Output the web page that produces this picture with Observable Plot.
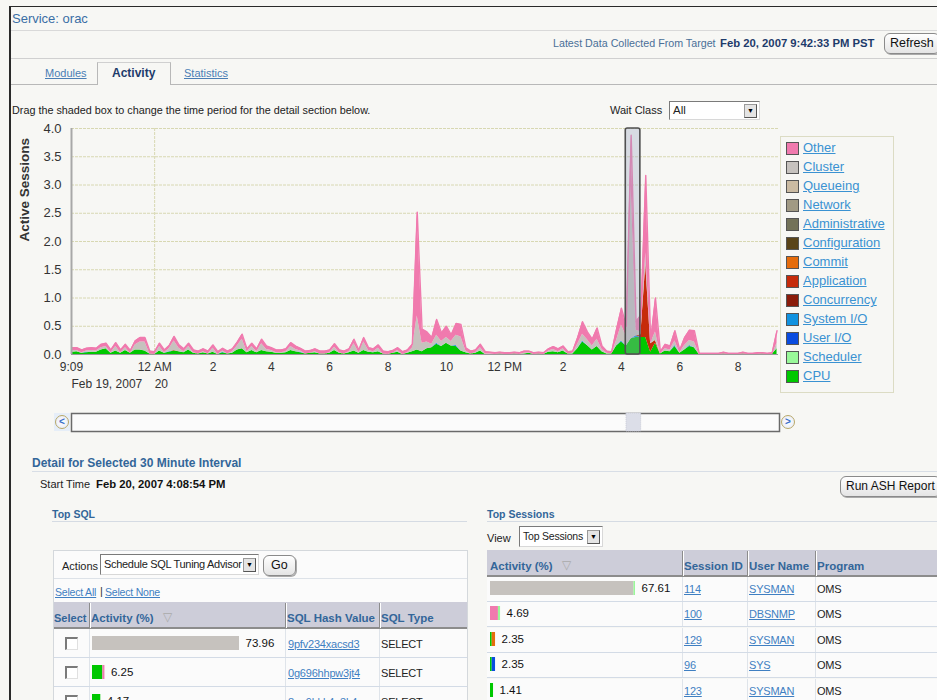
<!DOCTYPE html>
<html>
<head>
<meta charset="utf-8">
<script src="https://cdn.jsdelivr.net/npm/d3@7"></script>
<script src="https://cdn.jsdelivr.net/npm/@observablehq/plot@0.6"></script>
<style>
html,body{margin:0;padding:0;}
body{width:937px;height:700px;overflow:hidden;position:relative;background:#f7f7f4;
  font-family:"Liberation Sans",Arial,sans-serif;font-size:11px;color:#222;}
.a{position:absolute;white-space:nowrap;line-height:14px;}
.link{color:#3f7fc2;text-decoration:underline;}
.hdr{color:#336699;font-weight:bold;}
.ln{position:absolute;height:1px;background:#d5dbe3;}
.btn{position:absolute;border:1px solid #8a8a8a;border-radius:6px;background:linear-gradient(#ffffff,#e4e4e4);
  font-size:12.5px;line-height:18px;padding:0 5px;white-space:nowrap;box-shadow:1px 1px 0 #aaa;color:#111;}
.sel{position:absolute;border:1px solid #7a7a7a;border-right-color:#d8d8d8;border-bottom-color:#d8d8d8;background:#fff;
  line-height:17px;padding-left:3px;white-space:nowrap;box-sizing:border-box;overflow:hidden;}
.dd{position:absolute;right:2px;width:11px;height:12px;border:1px solid #9a9a9a;border-right-color:#555;border-bottom-color:#555;background:#e4e4e4;font-size:7px;line-height:12px;text-align:center;color:#000;letter-spacing:0;}
.cb{position:absolute;width:10px;height:10px;border-top:2px solid #7a7a7a;border-left:2px solid #7a7a7a;border-right:1px solid #e0e0e0;border-bottom:1px solid #e0e0e0;background:#fff;}
.sw{position:absolute;width:11px;height:11px;border:1px solid #555;}
.leg{position:absolute;white-space:nowrap;font-size:13px;line-height:15px;color:#3a92d2;text-decoration:underline;}
.th{position:absolute;background:#cdcdd9;border-bottom:2px solid #8c8c8c;box-sizing:border-box;}
.vs{position:absolute;width:1px;background:#8c8c8c;border-right:1px solid #fff;}
.rb{position:absolute;height:1px;background:#d3dbe6;}
.circ{position:absolute;width:12px;height:12px;border-radius:50%;border:1px solid #b8a868;background:radial-gradient(#ffffff,#e4e8f4);color:#3a6fc8;font:bold 10px/12px "Liberation Sans",Arial,sans-serif;text-align:center;}
.tb{letter-spacing:-0.2px;}
</style>
</head>
<body>
<script>
// ---------------- chart data (Active Sessions by wait class, 10-minute samples) ----------------
const sampleStart = "2007-02-19T21:10:00Z";
const sampleStepMinutes = 10;
const cpu = [
 .04,.05,.02,.03,.04,.04,.08,.10,.02,.06,
 .02,.07,.02,.08,.08,.06,.01,.00,.06,.02,
 .04,.06,.05,.03,.08,.02,.01,.03,.01,.04,
 .00,.03,.01,.02,.08,.10,.03,.07,.03,.07,
 .05,.04,.02,.02,.03,.07,.05,.03,.01,.02,
 .03,.01,.01,.02,.07,.02,.01,.03,.06,.02,
 .07,.04,.03,.05,.01,.00,.02,.04,.00,.02,
 .05,.08,.05,.10,.12,.18,.14,.20,.15,.14,
 .06,.03,.01,.02,.06,.00,.00,.00,.01,.00,
 .00,.01,.00,.01,.02,.00,.01,.00,.04,.05,
 .03,.06,.01,.01,.10,.22,.16,.08,.14,.05,
 .01,.01,.15,.22,.15,.28,.30,.30,.30,.04,
 .20,.01,.06,.05,.14,.02,.08,.14,.12,.00,
 .00,.00,.00,.00,.01,.00,.00,.00,.01,.00,
 .00,.00,.01,.00,.00,.10];
const systemIO = [
 .00,.00,.00,.01,.00,.00,.00,.00,.00,.00,
 .00,.00,.00,.00,.00,.00,.00,.00,.00,.00,
 .01,.00,.00,.00,.00,.00,.00,.00,.00,.00,
 .00,.01,.00,.00,.00,.00,.00,.00,.00,.00,
 .00,.00,.00,.00,.00,.00,.00,.01,.00,.00,
 .00,.00,.00,.00,.00,.00,.00,.00,.00,.00,
 .00,.00,.00,.00,.00,.00,.00,.00,.00,.00,
 .00,.00,.00,.00,.00,.02,.00,.00,.00,.02,
 .00,.00,.00,.00,.00,.00,.00,.00,.00,.00,
 .00,.00,.00,.00,.00,.00,.00,.00,.00,.00,
 .00,.00,.00,.00,.00,.02,.00,.00,.00,.00,
 .00,.00,.00,.02,.00,.00,.03,.00,.00,.00,
 .00,.00,.00,.00,.02,.00,.00,.02,.00,.00,
 .00,.00,.00,.00,.00,.00,.00,.00,.00,.00,
 .00,.00,.00,.00,.00,.00];
const application = [
 .00,.00,.00,.00,.00,.00,.00,.00,.00,.00,
 .00,.00,.00,.00,.00,.00,.00,.00,.00,.00,
 .00,.01,.00,.00,.00,.00,.00,.00,.00,.00,
 .00,.00,.00,.00,.00,.00,.00,.00,.00,.00,
 .00,.00,.00,.00,.00,.00,.00,.00,.00,.00,
 .00,.00,.00,.00,.00,.00,.00,.00,.00,.00,
 .00,.00,.00,.00,.00,.00,.00,.00,.00,.00,
 .00,.00,.00,.00,.00,.00,.00,.00,.00,.00,
 .00,.00,.00,.00,.00,.00,.00,.00,.00,.00,
 .00,.00,.00,.00,.00,.00,.00,.00,.00,.00,
 .00,.00,.00,.00,.00,.00,.00,.00,.00,.00,
 .00,.00,.00,.00,.00,.00,.00,.05,1.30,.15,
 .05,.00,.00,.00,.00,.00,.00,.00,.00,.00,
 .00,.00,.00,.00,.00,.00,.00,.00,.00,.00,
 .00,.00,.00,.00,.00,.00];
const cluster = [
 .03,.02,.01,.02,.03,.02,.04,.04,.01,.08,
 .01,.05,.00,.09,.14,.16,.00,.00,.08,.01,
 .05,.17,.06,.02,.06,.01,.00,.02,.00,.07,
 .00,.02,.00,.03,.07,.17,.02,.07,.02,.12,
 .04,.03,.01,.01,.02,.07,.04,.02,.00,.00,
 .02,.00,.00,.01,.06,.01,.00,.02,.13,.01,
 .15,.03,.02,.06,.00,.00,.00,.03,.00,.01,
 .06,.60,.15,.12,.06,.14,.09,.10,.08,.18,
 .25,.03,.00,.01,.06,.01,.01,.00,.00,.00,
 .00,.00,.00,.01,.01,.00,.00,.00,.02,.04,
 .02,.04,.00,.01,.08,.12,.10,.07,.13,.04,
 .01,.00,.10,.28,.17,2.70,.10,.05,.20,.00,
 .15,.00,.04,.03,.08,.01,.08,.09,.10,.00,
 .00,.00,.00,.00,.00,.00,.00,.00,.00,.00,
 .00,.00,.00,.00,.00,.10];
const other = [
 .05,.05,.05,.05,.05,.05,.06,.06,.05,.07,
 .05,.06,.05,.07,.08,.08,.05,.05,.06,.05,
 .06,.08,.06,.05,.06,.05,.05,.05,.05,.06,
 .05,.05,.05,.05,.07,.09,.05,.06,.05,.08,
 .06,.05,.05,.05,.05,.07,.06,.05,.05,.05,
 .05,.05,.05,.05,.06,.05,.05,.05,.08,.05,
 .08,.05,.05,.06,.05,.05,.05,.05,.05,.05,
 .07,1.84,.25,.18,.12,.28,.15,.20,.12,.21,
 .22,.06,.05,.05,.06,.04,.03,.03,.03,.03,
 .03,.03,.03,.04,.03,.03,.03,.03,.04,.05,
 .05,.05,.04,.04,.12,.22,.14,.12,.20,.06,
 .04,.04,.20,.30,.18,.90,.15,.30,1.37,.06,
 .60,.04,.08,.07,.18,.05,.14,.18,.20,.02,
 .02,.02,.02,.02,.03,.02,.02,.02,.03,.02,
 .02,.03,.02,.02,.03,.22];

const waitClasses = ["Other","Cluster","Queueing","Network","Administrative","Configuration","Commit","Application","Concurrency","System I/O","User I/O","Scheduler","CPU"];
const waitColors  = ["#f07aae","#c6c2be","#cbbba2","#a19a84","#737258","#5a4419","#e56c0c","#c62b0a","#8a1c0a","#1192e0","#0a4ce0","#99f899","#00c800"];

const domainStart = "2007-02-19T21:09:00Z";
const domainEnd   = "2007-02-20T21:23:00Z";
const dayBreak    = "2007-02-20T00:00:00Z";
const yTicks = [0, 0.5, 1, 1.5, 2, 2.5, 3, 3.5, 4];
const xTickTimes  = ["2007-02-19T21:09:00Z","2007-02-20T00:00:00Z","2007-02-20T02:00:00Z","2007-02-20T04:00:00Z","2007-02-20T06:00:00Z","2007-02-20T08:00:00Z","2007-02-20T10:00:00Z","2007-02-20T12:00:00Z","2007-02-20T14:00:00Z","2007-02-20T16:00:00Z","2007-02-20T18:00:00Z","2007-02-20T20:00:00Z"];
const xTickLabels = ["9:09","12 AM","2","4","6","8","10","12 PM","2","4","6","8"];
const dateLabelTimes = ["2007-02-19T21:09:00Z","2007-02-20T00:00:00Z"];
const dateLabels     = ["Feb 19, 2007","20"];
const selectionStart = "2007-02-20T16:08:54Z";
const selectionEnd   = "2007-02-20T16:38:54Z";

// ---------------- detail tables ----------------
const sqlActivity = [73.96, 6.25, 4.17];
const sqlParts = [[["Cluster",73.96]], [["CPU",5.2],["Other",1.05]], [["CPU",4.17]]];
const sqlHash = ["9pfv234xacsd3","0g696hhpw3jt4","8nq9bkk4g3k4"];
const sqlType = ["SELECT","SELECT","SELECT"];
const sessActivity = [67.61, 4.69, 2.35, 2.35, 1.41];
const sessParts = [[["Cluster",66.9],["Scheduler",0.71]], [["Other",3.7],["Scheduler",0.99]], [["CPU",0.8],["Commit",1.55]], [["CPU",0.8],["User I/O",1.55]], [["CPU",1.41]]];
const sessId = ["114","100","129","96","123"];
const sessUser = ["SYSMAN","DBSNMP","SYSMAN","SYS","SYSMAN"];
const sessProgram = ["OMS","OMS","OMS","OMS","OMS"];

// ---------------- helpers ----------------
const body = document.body;
function el(cls, x, y, text, style) {
  const d = document.createElement("div");
  d.className = cls;
  d.style.left = x + "px"; d.style.top = y + "px";
  if (text != null) d.textContent = text;
  if (style) Object.assign(d.style, style);
  body.appendChild(d);
  return d;
}
function place(node, x, y) {
  node.style.position = "absolute"; node.style.left = x + "px"; node.style.top = y + "px";
  body.appendChild(node);
  return node;
}
function dropdown(parent, top) {
  const d = document.createElement("div"); d.className = "dd"; d.textContent = "\u25BC"; d.style.top = top + "px"; parent.appendChild(d);
}
const color = {domain: waitClasses, range: waitColors};
const stackOrder = waitClasses.slice().reverse();
const T = s => new Date(s);

// ---------------- page chrome ----------------
el("", 9, 6, null, {position:"absolute", width:"940px", height:"700px", borderLeft:"2px solid #2a2a2a", borderTop:"1px solid #2a2a2a"});
el("a", 12, 12, "Service: orac", {fontSize:"13px", color:"#3a6ea5"});
el("ln", 11, 30, null, {width:"926px", background:"#d9d9d9"});
el("a", 553, 36, "Latest Data Collected From Target", {fontSize:"10.7px", color:"#4a6f98"});
el("a", 720, 36, "Feb 20, 2007 9:42:33 PM PST", {fontSize:"11.3px", fontWeight:"bold", color:"#1e3b6b"});
el("btn", 884, 33, "Refresh", {height:"19px"});
el("ln", 11, 58, null, {width:"926px", background:"#d0d0d0"});
// tabs
el("ln", 11, 84, null, {width:"86px", background:"#b8b8b8"});
el("ln", 170, 84, null, {width:"767px", background:"#b8b8b8"});
el("", 97, 62, null, {position:"absolute", width:"72px", height:"22px", borderLeft:"1px solid #b8b8b8", borderRight:"1px solid #b8b8b8", borderTop:"1px solid #d0d0d0"});
el("a link", 45, 66, "Modules", {color:"#4a7eb5"});
el("a", 112, 66, "Activity", {fontSize:"12px", fontWeight:"bold", color:"#1e3b6b"});
el("a link", 184, 66, "Statistics", {color:"#4a7eb5"});
el("a", 12, 103, "Drag the shaded box to change the time period for the detail section below.", {fontSize:"10.8px"});
el("a", 610, 103, "Wait Class", {fontSize:"11px"});
const ws = el("sel", 669, 101, "All", {width:"91px", height:"19px", fontSize:"11.5px"});
dropdown(ws, 2);

// ---------------- main chart ----------------
const times = cpu.map((_, i) => new Date(Date.parse(sampleStart) + i * sampleStepMinutes * 60000));
const series = [["CPU", cpu], ["System I/O", systemIO], ["Application", application], ["Cluster", cluster], ["Other", other]];
const rows = [];
for (const [name, vals] of series) vals.forEach((v, i) => rows.push({time: times[i], cls: name, value: v}));
const totals = times.map((t, i) => ({time: t, value: series.reduce((a, [, vals]) => a + vals[i], 0)}));
const tickMap = new Map(xTickTimes.map((s, i) => [+T(s), xTickLabels[i]]));
const dateRows = dateLabelTimes.map((s, i) => ({time: T(s), label: dateLabels[i]}));
const selection = [{start: T(selectionStart), end: T(selectionEnd)}];
const gridStyle = {stroke: "#d8d8b2", strokeOpacity: 1, strokeDasharray: "3,1"};

const chart = Plot.plot({
  width: 790, height: 281,
  marginLeft: 71, marginRight: 12, marginTop: 10, marginBottom: 45,
  style: {background: "transparent", fontFamily: "Liberation Sans, Arial, sans-serif", color: "#333", overflow: "visible"},
  x: {type: "utc", domain: [T(domainStart), T(domainEnd)]},
  y: {domain: [0, 4]},
  color,
  marks: [
    Plot.gridY(yTicks, gridStyle),
    Plot.ruleX([T(dayBreak)], gridStyle),
    Plot.areaY(rows, {x: "time", y: "value", z: "cls", fill: "cls", order: stackOrder, curve: "linear"}),
    Plot.lineY(totals, {x: "time", y: "value", stroke: waitColors[0], strokeWidth: 1.4}),
    Plot.ruleY([0], {stroke: "#9a9a9a"}),
    Plot.ruleX([T(domainStart)], {stroke: "#a8a8a8", strokeWidth: 2}),
    Plot.rect(selection, {x1: "start", x2: "end", y1: 0, y2: 4, fill: "#9aa6c0", fillOpacity: 0.35, stroke: "#505050", strokeWidth: 1.6, rx: 2}),
    Plot.axisY(yTicks, {tickSize: 0, tickPadding: 10, tickFormat: d3.format(".1f"), fontSize: 13, label: null}),
    Plot.axisX(xTickTimes.map(T), {tickSize: 0, tickPadding: 8, tickFormat: d => tickMap.get(+d), fontSize: 12, label: null}),
    Plot.text(dateRows, {x: "time", text: "label", frameAnchor: "bottom", lineAnchor: "top", textAnchor: "start", dy: 25, fontSize: 12}),
    Plot.text(["Active Sessions"], {frameAnchor: "left", dx: -47, rotate: -90, fontWeight: "bold", fontSize: 13.5})
  ]
});
place(chart, 0, 118);

// legend
el("", 780, 136, null, {position:"absolute", width:"112px", height:"255px", border:"1px solid #dcdcc4"});
waitClasses.forEach((c, k) => {
  el("sw", 786, 142 + k * 19.03, null, {background: waitColors[k]});
  el("leg", 803, 140 + k * 19.03, c);
});

// scroll bar (same time scale as the chart)
const scroll = Plot.plot({
  width: 790, height: 22, marginLeft: 71, marginRight: 11, marginTop: 2, marginBottom: 2,
  style: {background: "transparent", overflow: "visible"},
  x: {type: "utc", domain: [T(domainStart), T(domainEnd)], axis: null},
  marks: [
    Plot.frame({fill: "#fbfbfb", stroke: "#6a6a6a", strokeWidth: 1.5}),
    Plot.rect(selection, {x1: "start", x2: "end", fill: "#dcdee8", stroke: "#c8cad6", strokeDasharray: "1,1"})
  ]
});
place(scroll, 0, 411);
el("", 54, 413, null, {position:"absolute", width:"16px", height:"18px", background:"#e6eef8"});
el("circ", 55, 415, "<");
el("circ", 781, 415, ">");

// ---------------- detail section ----------------
el("a", 32, 456, "Detail for Selected 30 Minute Interval", {fontSize:"12px", fontWeight:"bold", color:"#336699"});
el("ln", 32, 471, null, {width:"905px", background:"#d8dee6"});
el("a", 40, 477, "Start Time", {fontSize:"11px"});
el("a", 96, 477, "Feb 20, 2007 4:08:54 PM", {fontSize:"11.3px", fontWeight:"bold", color:"#111"});
el("btn", 840, 476, "Run ASH Report", {height:"19px", fontSize:"12px"});

// Top SQL
el("a hdr", 52, 507, "Top SQL", {fontSize:"10.5px"});
el("ln", 52, 521, null, {width:"415px"});
el("", 53, 550, null, {position:"absolute", width:"413px", height:"160px", border:"1px solid #d4d8dc", background:"#fbfbfb"});
el("ln", 54, 578, null, {width:"413px", background:"#dde2e8"});
el("a", 62, 559, "Actions", {fontSize:"11px"});
const as = el("sel", 100, 554, "Schedule SQL Tuning Advisor", {width:"159px", height:"21px", lineHeight:"19px", fontSize:"11px", letterSpacing:"-0.3px"});
dropdown(as, 3);
el("btn", 263, 555, "Go", {height:"19px", padding:"0 7px"});
el("a link", 55, 585, "Select All", {fontSize:"10.5px", letterSpacing:"-0.2px"});
el("a", 100, 584, "|", {color:"#333"});
el("a link", 105, 585, "Select None", {fontSize:"10.5px", letterSpacing:"-0.2px"});
el("th", 54, 602, null, {width:"413px", height:"27px"});
[89, 285, 379].forEach(x => el("vs", x, 603, null, {height:"25px"}));
el("a hdr", 54, 611, "Select", {fontSize:"11px"});
el("a hdr", 91, 611, "Activity (%)", {fontSize:"11.5px"});
el("a", 163, 610, "\u25BD", {color:"#aaa", fontSize:"12px"});
el("a hdr", 287, 611, "SQL Hash Value", {fontSize:"11.5px"});
el("a hdr", 381, 611, "SQL Type", {fontSize:"11.5px"});

function activityBar(parts, value, maxValue, barWidth, h) {
  return Plot.plot({
    width: barWidth + 45, height: h, margin: 0,
    style: {background: "transparent", overflow: "visible", fontFamily: "Liberation Sans, Arial, sans-serif", color: "#111"},
    x: {domain: [0, maxValue], range: [0, barWidth], axis: null},
    color,
    marks: [
      Plot.barX(parts, {x: d => d[1], fill: d => d[0]}),
      Plot.text([value], {x: d => d, text: d => d.toFixed(2), dx: 6, textAnchor: "start", frameAnchor: "middle", fontSize: 11.5})
    ]
  });
}
const sqlMax = d3.max(sqlActivity);
sqlActivity.forEach((v, k) => {
  const top = 629 + k * 29;
  el("cb", 65, top + 8);
  place(activityBar(sqlParts[k], v, sqlMax, 147, 14), 92, top + 7);
  el("a link tb", 288, top + 8, sqlHash[k]);
  el("a tb", 381, top + 8, sqlType[k]);
  [89, 285, 379].forEach(x => el("", x, top, null, {position:"absolute", width:"1px", height:"29px", background:"#dfe4ea"}));
  el("rb", 54, top + 28, null, {width:"413px"});
});

// Top Sessions
el("a hdr", 487, 507, "Top Sessions", {fontSize:"10.5px"});
el("ln", 487, 521, null, {width:"450px"});
el("a", 487, 531, "View", {fontSize:"11px"});
const vs = el("sel", 519, 526, "Top Sessions", {width:"84px", height:"21px", lineHeight:"19px", fontSize:"10.5px", letterSpacing:"-0.2px"});
dropdown(vs, 3);
el("th", 487, 550, null, {width:"450px", height:"27px"});
[682, 747, 815].forEach(x => el("vs", x, 551, null, {height:"25px"}));
el("a hdr", 490, 559, "Activity (%)", {fontSize:"11.5px"});
el("a", 562, 558, "\u25BD", {color:"#aaa", fontSize:"12px"});
el("a hdr", 684, 559, "Session ID", {fontSize:"11.5px"});
el("a hdr", 749, 559, "User Name", {fontSize:"11.5px"});
el("a hdr", 817, 559, "Program", {fontSize:"11.5px"});
const sessMax = d3.max(sessActivity);
sessActivity.forEach((v, k) => {
  const top = 577 + k * 25.4;
  el("", 487, top, null, {position:"absolute", width:"450px", height:"24px", background:"#fbfbfb"});
  place(activityBar(sessParts[k], v, sessMax, 145, 14), 490, top + 4);
  el("a link tb", 684, top + 5, sessId[k]);
  el("a link tb", 749, top + 5, sessUser[k]);
  el("a tb", 817, top + 5, sessProgram[k]);
  [682, 747, 815].forEach(x => el("", x, top, null, {position:"absolute", width:"1px", height:"25px", background:"#dfe4ea"}));
  el("rb", 487, top + 24, null, {width:"450px"});
});
</script>
</body>
</html>
